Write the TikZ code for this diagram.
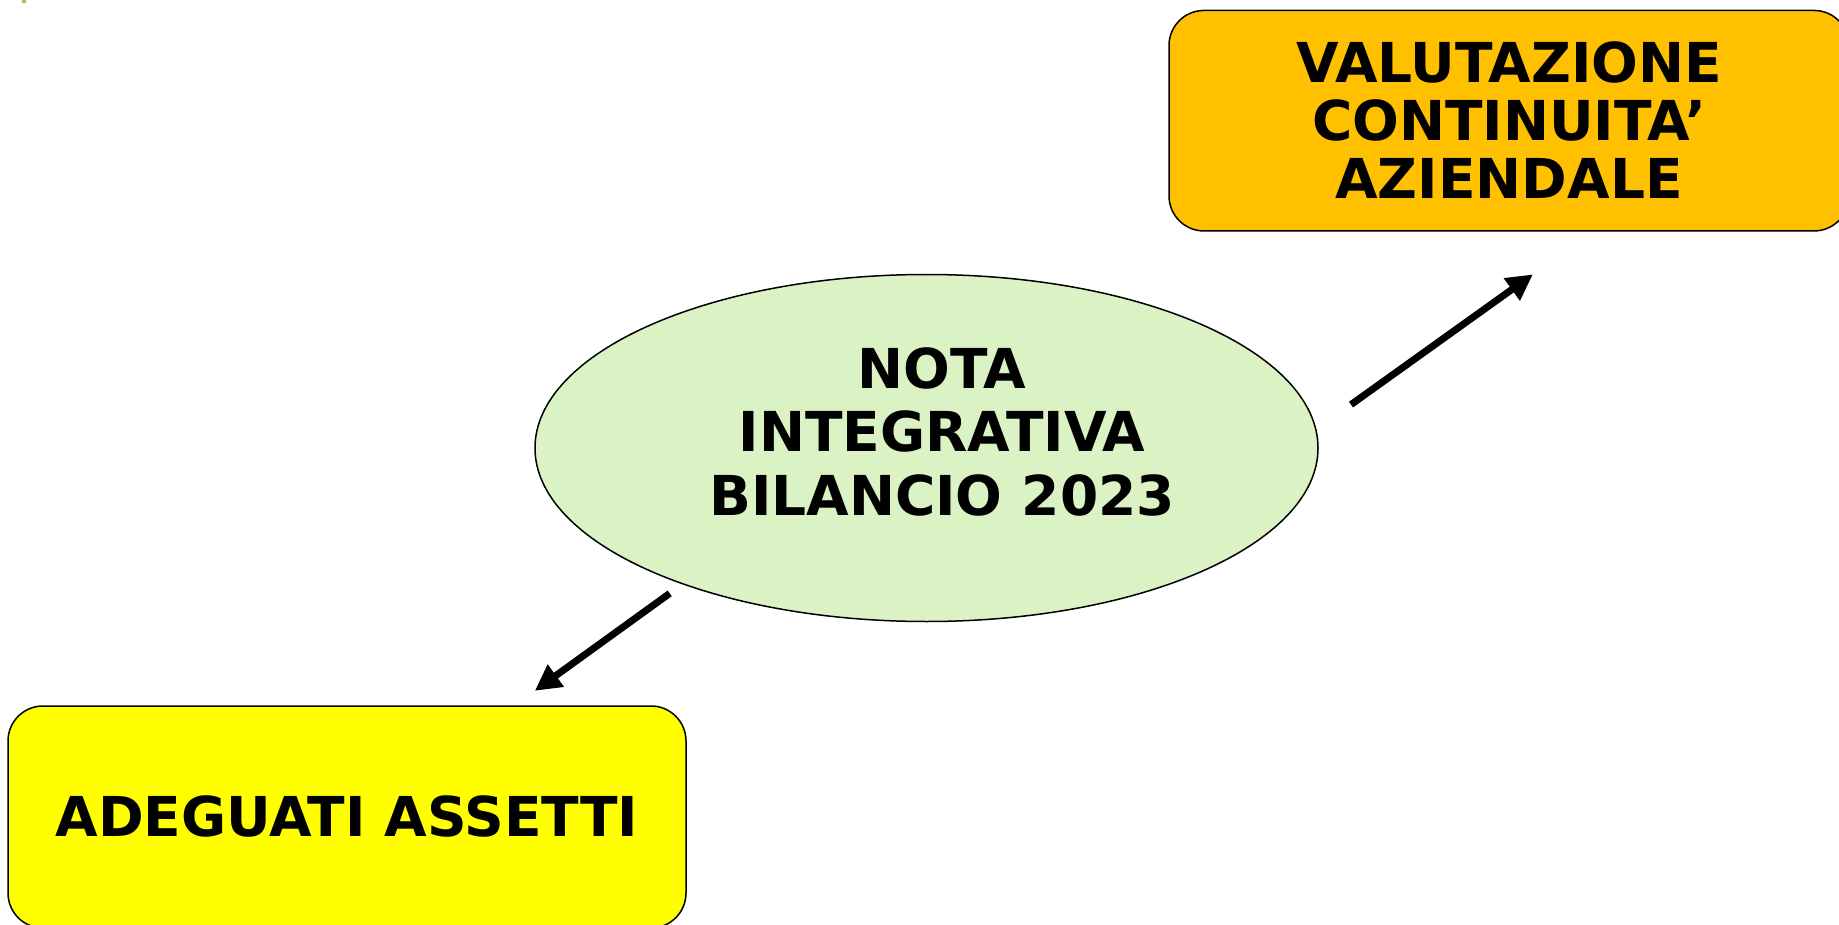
\documentclass[tikz,border=0pt]{standalone}
\usepackage{fontspec}
\setmainfont{DejaVu Sans}
\usetikzlibrary{shapes.geometric,arrows.meta}
\definecolor{orangebox}{HTML}{FFC000}
\definecolor{yellowbox}{HTML}{FFFF00}
\definecolor{ellgreen}{HTML}{DAF2C4}
\definecolor{markgreen}{HTML}{92D050}
\tikzset{
  box/.style={draw=black, line width=1.5pt, rounded corners=35pt, inner sep=0pt},
  lbl/.style={font=\bfseries\fontsize{55}{58}\selectfont, align=center, inner sep=0pt, text=black},
  conn/.style={line width=7pt, -{Triangle[length=26pt,width=26pt]}}
}
\begin{document}
\begin{tikzpicture}[x=1pt,y=-1pt]
\clip (0,0) rectangle (1839,925);
\fill[white] (0,0) rectangle (1839,925);
\fill[markgreen] (22,0) rectangle (26,3);
% orange box
\node[box, fill=orangebox, minimum width=680pt, minimum height=220.5pt] (valbox) at (1509,120.7) {};
\node[lbl] (valtext) at (1509,120) {VALUTAZIONE\\CONTINUITA’\\AZIENDALE};
% ellipse
\node[ellipse, draw=black, line width=1.5pt, fill=ellgreen, minimum width=783pt, minimum height=347pt, inner sep=0pt] (ell) at (926.5,448) {};
\node[lbl, font=\bfseries\fontsize{55}{63.5}\selectfont] (elltext) at (942,431.6) {NOTA\\INTEGRATIVA\\BILANCIO 2023};
% yellow box
\node[box, fill=yellowbox, minimum width=678pt, minimum height=222pt] (adbox) at (347,817) {};
\node[lbl] (adtext) at (347,816) {ADEGUATI ASSETTI};
% connectors
\coordinate (a1s) at (669.7,593.4);
\coordinate (a1e) at (534.8,690.8);
\coordinate (a2s) at (1351,404.6);
\coordinate (a2e) at (1532.9,274.4);
\draw[conn] (a1s) -- (a1e);
\draw[conn] (a2s) -- (a2e);
\end{tikzpicture}
\end{document}
